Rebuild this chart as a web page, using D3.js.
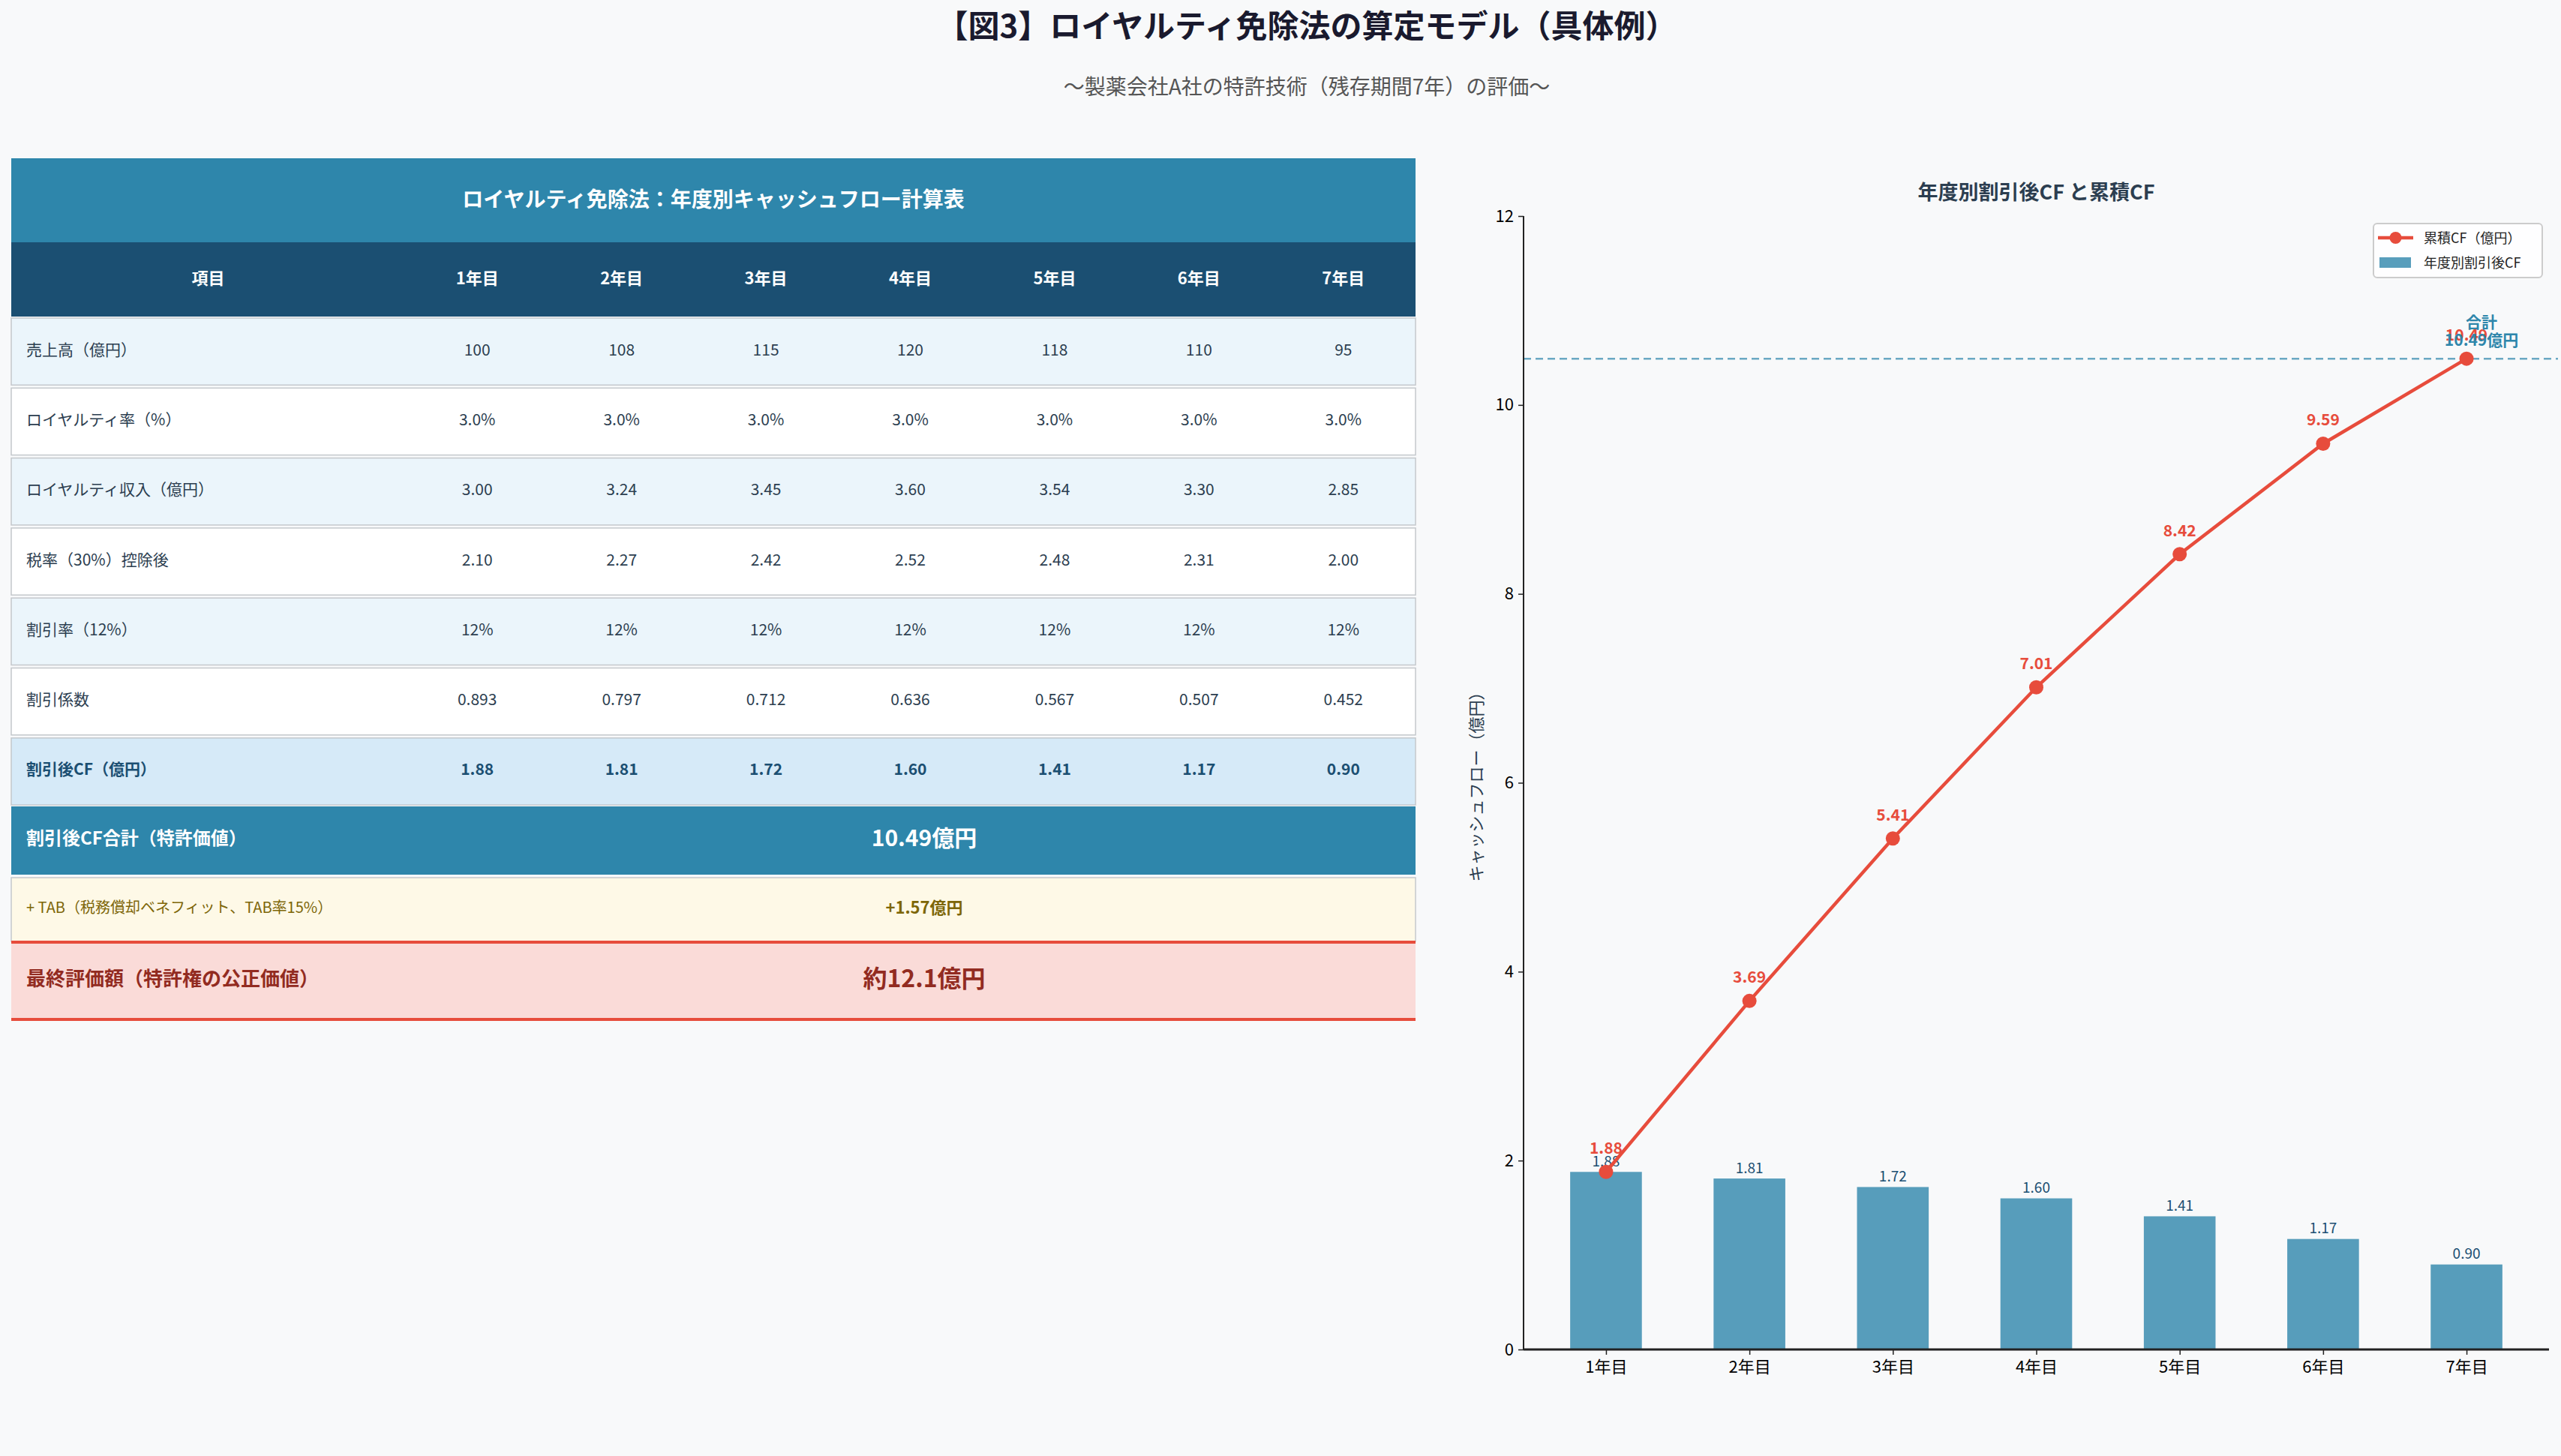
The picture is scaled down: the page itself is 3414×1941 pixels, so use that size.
<!DOCTYPE html>
<html>
<head>
<meta charset="utf-8">
<script src="https://cdn.jsdelivr.net/npm/d3@7"></script>
<style>
  body { margin: 0; background: #f8f9fa; }
  text { font-family: "Noto Sans CJK JP", "Noto Sans", sans-serif; }
</style>
</head>
<body>
<svg id="fig"></svg>
<script>
// data
const years = ['1年目', '2年目', '3年目', '4年目', '5年目', '6年目', '7年目'];
const sales = [100, 108, 115, 120, 118, 110, 95];
const royaltyRate = [3.0, 3.0, 3.0, 3.0, 3.0, 3.0, 3.0];
const royaltyIncome = [3.00, 3.24, 3.45, 3.60, 3.54, 3.30, 2.85];
const afterTax = [2.10, 2.27, 2.42, 2.52, 2.48, 2.31, 2.00];
const discountRate = [12, 12, 12, 12, 12, 12, 12];
const discountFactor = [0.893, 0.797, 0.712, 0.636, 0.567, 0.507, 0.452];
const discountedCF = [1.88, 1.81, 1.72, 1.60, 1.41, 1.17, 0.90];
const cumulativeCF = [1.88, 3.69, 5.41, 7.01, 8.42, 9.59, 10.49];
const totalCF = 10.49;
const yTicks = [0, 2, 4, 6, 8, 10, 12];

const W = 3414, H = 1941;
const svg = d3.select('#fig').attr('width', W).attr('height', H);
svg.append('rect').attr('width', W).attr('height', H).attr('fill', '#f8f9fa');

// figure titles
svg.append('text').attr('x', 1742).attr('y', 31).attr('text-anchor', 'middle')
  .attr('dominant-baseline', 'central').attr('font-size', 42).attr('font-weight', 'bold')
  .attr('fill', '#1a1a2e').text('【図3】ロイヤルティ免除法の算定モデル（具体例）');
svg.append('text').attr('x', 1742).attr('y', 114).attr('text-anchor', 'middle')
  .attr('dominant-baseline', 'central').attr('font-size', 28)
  .attr('fill', '#555').text('〜製薬会社A社の特許技術（残存期間7年）の評価〜');

// ---------- table ----------
const tL = 15, tR = 1887;
const labelW = 525;
const colW = (tR - tL - labelW) / 7;
const colX = i => tL + labelW + colW * (i + 0.5);
const rowH = 93.3;
const up = 4; // text sits a little above cell centre

const tbl = svg.append('g');
// title band
tbl.append('rect').attr('x', tL).attr('y', 211).attr('width', tR - tL).attr('height', 112).attr('fill', '#2e86ab');
tbl.append('text').attr('x', (tL + tR) / 2).attr('y', 264).attr('text-anchor', 'middle')
  .attr('dominant-baseline', 'central').attr('font-size', 28).attr('font-weight', 'bold')
  .attr('fill', '#fff').text('ロイヤルティ免除法：年度別キャッシュフロー計算表');
// header
tbl.append('rect').attr('x', tL).attr('y', 323).attr('width', tR - tL).attr('height', 99).attr('fill', '#1b4f72');
tbl.append('text').attr('x', tL + labelW / 2).attr('y', 369).attr('text-anchor', 'middle')
  .attr('dominant-baseline', 'central').attr('font-size', 22).attr('font-weight', 'bold')
  .attr('fill', '#fff').text('項目');
tbl.selectAll('.yh').data(years).enter().append('text')
  .attr('x', (d, i) => colX(i)).attr('y', 369).attr('text-anchor', 'middle')
  .attr('dominant-baseline', 'central').attr('font-size', 22).attr('font-weight', 'bold')
  .attr('fill', '#fff').text(d => d);

const rows = [
  { label: '売上高（億円）', vals: sales.map(v => String(v)) },
  { label: 'ロイヤルティ率（%）', vals: royaltyRate.map(v => v.toFixed(1) + '%') },
  { label: 'ロイヤルティ収入（億円）', vals: royaltyIncome.map(v => v.toFixed(2)) },
  { label: '税率（30%）控除後', vals: afterTax.map(v => v.toFixed(2)) },
  { label: '割引率（12%）', vals: discountRate.map(v => v + '%') },
  { label: '割引係数', vals: discountFactor.map(v => v.toFixed(3)) },
  { label: '割引後CF（億円）', vals: discountedCF.map(v => v.toFixed(2)), key: true }
];

rows.forEach((r, k) => {
  const y0 = 424 + k * rowH;
  const fill = r.key ? '#d6eaf8' : (k % 2 === 0 ? '#ebf5fb' : '#ffffff');
  tbl.append('rect').attr('x', tL).attr('y', y0).attr('width', tR - tL).attr('height', rowH - 4)
    .attr('fill', fill).attr('stroke', '#c4c8cc').attr('stroke-width', 1.5);
  const cy = y0 + (rowH - 4) / 2 - up;
  const col = r.key ? '#1b4f72' : '#2c3e50';
  const fw = r.key ? 'bold' : 'normal';
  tbl.append('text').attr('x', tL + 20).attr('y', cy).attr('dominant-baseline', 'central')
    .attr('font-size', 21).attr('font-weight', fw).attr('fill', col).text(r.label);
  r.vals.forEach((v, i) => {
    tbl.append('text').attr('x', colX(i)).attr('y', cy).attr('text-anchor', 'middle')
      .attr('dominant-baseline', 'central').attr('font-size', 21).attr('font-weight', fw)
      .attr('fill', col).text(v);
  });
});

// summary rows
const valX = 1232;
// total
tbl.append('rect').attr('x', tL).attr('y', 1075).attr('width', tR - tL).attr('height', 91).attr('fill', '#2e86ab');
tbl.append('text').attr('x', tL + 20).attr('y', 1115).attr('dominant-baseline', 'central')
  .attr('font-size', 24).attr('font-weight', 'bold').attr('fill', '#fff').text('割引後CF合計（特許価値）');
tbl.append('text').attr('x', valX).attr('y', 1115).attr('text-anchor', 'middle').attr('dominant-baseline', 'central')
  .attr('font-size', 30).attr('font-weight', 'bold').attr('fill', '#fff').text(totalCF.toFixed(2) + '億円');
// TAB
tbl.append('rect').attr('x', tL).attr('y', 1170).attr('width', tR - tL).attr('height', 85)
  .attr('fill', '#fef9e7').attr('stroke', '#c4c8cc').attr('stroke-width', 1.5);
tbl.append('text').attr('x', tL + 20).attr('y', 1208).attr('dominant-baseline', 'central')
  .attr('font-size', 20).attr('fill', '#7d6608').text('+ TAB（税務償却ベネフィット、TAB率15%）');
tbl.append('text').attr('x', valX).attr('y', 1208).attr('text-anchor', 'middle').attr('dominant-baseline', 'central')
  .attr('font-size', 22).attr('font-weight', 'bold').attr('fill', '#7d6608').text('+1.57億円');
// final
tbl.append('rect').attr('x', tL).attr('y', 1256).attr('width', tR - tL).attr('height', 103)
  .attr('fill', '#fadbd8');
tbl.append('line').attr('x1', tL).attr('x2', tR).attr('y1', 1256).attr('y2', 1256).attr('stroke', '#e74c3c').attr('stroke-width', 4);
tbl.append('line').attr('x1', tL).attr('x2', tR).attr('y1', 1359).attr('y2', 1359).attr('stroke', '#e74c3c').attr('stroke-width', 4);
tbl.append('text').attr('x', tL + 20).attr('y', 1302).attr('dominant-baseline', 'central')
  .attr('font-size', 26).attr('font-weight', 'bold').attr('fill', '#922b21').text('最終評価額（特許権の公正価値）');
tbl.append('text').attr('x', valX).attr('y', 1302).attr('text-anchor', 'middle').attr('dominant-baseline', 'central')
  .attr('font-size', 32).attr('font-weight', 'bold').attr('fill', '#922b21').text('約12.1億円');

// ---------- chart ----------
const cL = 2031, cR = 3398, cT = 288, cB = 1799;
const x = d3.scaleLinear().domain([-0.575, 6.575]).range([cL, cR]);
const y = d3.scaleLinear().domain([0, 12]).range([cB, cT]);
const ch = svg.append('g');

ch.append('text').attr('x', (cL + cR) / 2).attr('y', 254).attr('text-anchor', 'middle')
  .attr('dominant-baseline', 'central').attr('font-size', 27).attr('font-weight', 'bold')
  .attr('fill', '#2c3e50').text('年度別割引後CF と累積CF');

// bars
ch.selectAll('.bar').data(discountedCF).enter().append('rect')
  .attr('x', (d, i) => x(i - 0.25)).attr('width', x(0.5) - x(0))
  .attr('y', d => y(d)).attr('height', d => cB - y(d))
  .attr('fill', '#2e86ab').attr('fill-opacity', 0.8);
ch.selectAll('.blab').data(discountedCF).enter().append('text')
  .attr('x', (d, i) => x(i)).attr('y', d => y(d) - 16).attr('text-anchor', 'middle')
  .attr('dominant-baseline', 'central').attr('font-size', 19).attr('fill', '#1b4f72').text(d => d.toFixed(2));

// total dashed line
ch.append('line').attr('x1', cL).attr('x2', W - 4).attr('y1', y(totalCF)).attr('y2', y(totalCF))
  .attr('stroke', '#2e86ab').attr('stroke-opacity', 0.7).attr('stroke-width', 2.5)
  .attr('stroke-dasharray', '10,6');

// cumulative line
const line = d3.line().x((d, i) => x(i)).y(d => y(d));
ch.append('path').datum(cumulativeCF).attr('d', line).attr('fill', 'none')
  .attr('stroke', '#e74c3c').attr('stroke-width', 4.5);
ch.selectAll('.pt').data(cumulativeCF).enter().append('circle')
  .attr('cx', (d, i) => x(i)).attr('cy', d => y(d)).attr('r', 9.5).attr('fill', '#e74c3c');
ch.selectAll('.plab').data(cumulativeCF).enter().append('text')
  .attr('x', (d, i) => x(i)).attr('y', d => y(d) - 33).attr('text-anchor', 'middle')
  .attr('dominant-baseline', 'central').attr('font-size', 21).attr('font-weight', 'bold')
  .attr('fill', '#e74c3c').text(d => d.toFixed(2));

// total annotation
const ax = x(6) + 20;
ch.append('text').attr('x', ax).attr('y', y(totalCF) - 50).attr('text-anchor', 'middle')
  .attr('dominant-baseline', 'central').attr('font-size', 21).attr('font-weight', 'bold')
  .attr('fill', '#2e86ab').text('合計');
ch.append('text').attr('x', ax).attr('y', y(totalCF) - 26).attr('text-anchor', 'middle')
  .attr('dominant-baseline', 'central').attr('font-size', 21).attr('font-weight', 'bold')
  .attr('fill', '#2e86ab').text(totalCF.toFixed(2) + '億円');

// axes
const yAxis = ch.append('g').attr('transform', 'translate(' + cL + ',0)')
  .call(d3.axisLeft(y).tickValues(yTicks).tickSize(7).tickPadding(6).tickFormat(d3.format('d')));
const xAxis = ch.append('g').attr('transform', 'translate(0,' + cB + ')')
  .call(d3.axisBottom(x).tickValues(d3.range(7)).tickSize(7).tickPadding(8).tickFormat(i => years[i]));
[yAxis, xAxis].forEach(a => {
  a.selectAll('text').attr('font-size', 22).attr('fill', '#000')
    .attr('font-family', '"Noto Sans CJK JP", sans-serif');
  a.selectAll('line').attr('stroke', '#222').attr('stroke-width', 1.5);
});
yAxis.select('.domain').attr('stroke', '#222').attr('stroke-width', 2).attr('d', 'M0,' + cT + 'V' + cB);
xAxis.select('.domain').attr('stroke', '#222').attr('stroke-width', 3).attr('d', 'M' + cL + ',0H' + cR);

ch.append('text').attr('transform', 'translate(1966,' + ((cT + cB) / 2) + ') rotate(-90)')
  .attr('text-anchor', 'middle').attr('dominant-baseline', 'central').attr('font-size', 22)
  .attr('fill', '#2c3e50').text('キャッシュフロー（億円）');

// legend
const lg = ch.append('g').attr('transform', 'translate(3164,298)');
lg.append('rect').attr('width', 225).attr('height', 72).attr('rx', 5)
  .attr('fill', '#fff').attr('fill-opacity', 0.85).attr('stroke', '#cccccc').attr('stroke-width', 2);
lg.append('line').attr('x1', 6).attr('x2', 53).attr('y1', 19).attr('y2', 19)
  .attr('stroke', '#e74c3c').attr('stroke-width', 4.5);
lg.append('circle').attr('cx', 29.5).attr('cy', 19).attr('r', 8).attr('fill', '#e74c3c');
lg.append('text').attr('x', 67).attr('y', 18).attr('dominant-baseline', 'central')
  .attr('font-size', 18).attr('fill', '#222').text('累積CF（億円）');
lg.append('rect').attr('x', 8).attr('y', 45).attr('width', 42).attr('height', 14)
  .attr('fill', '#2e86ab').attr('fill-opacity', 0.8);
lg.append('text').attr('x', 67).attr('y', 51).attr('dominant-baseline', 'central')
  .attr('font-size', 18).attr('fill', '#222').text('年度別割引後CF');
</script>
</body>
</html>
